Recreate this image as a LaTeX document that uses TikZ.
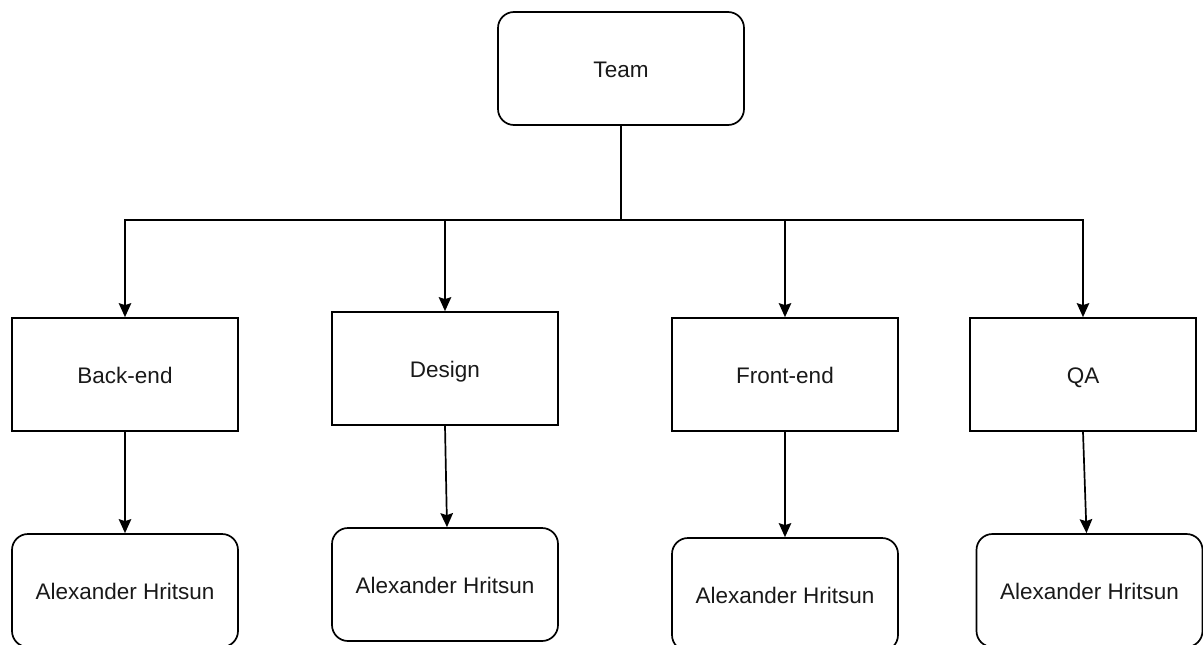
\documentclass[tikz,border=0pt]{standalone}
\usepackage{fontspec}
\setmainfont{Liberation Sans}
\usetikzlibrary{arrows.meta}
\begin{document}
\begin{tikzpicture}[x=1pt,y=-1pt,
  box/.style={draw, line width=1.7pt, minimum width=226pt, minimum height=113pt, inner sep=0pt, text height=17pt, text depth=0pt, font=\fontsize{22.5}{27}\selectfont, text=black!90},
  rbox/.style={box, rounded corners=16pt},
  conn/.style={line width=1.7pt, -{Stealth[length=14pt,width=12.5pt,inset=2pt]}}]
\useasboundingbox (0,0) rectangle (1203,645);
\clip (0,0) rectangle (1203,645);
\node[rbox, minimum width=246pt] (team) at (621,68.5) {Team};
\node[box] (be) at (125,374.5) {Back-end};
\node[box] (de) at (445,368.5) {Design};
\node[box] (fe) at (785,374.5) {Front-end};
\node[box] (qa) at (1083,374.5) {QA};
\node[rbox] (beb) at (125,590.5) {Alexander Hritsun};
\node[rbox] (deb) at (445,584.5) {Alexander Hritsun};
\node[rbox] (feb) at (785,594.5) {Alexander Hritsun};
\node[rbox] (qab) at (1089.5,590.5) {Alexander Hritsun};
\coordinate (j) at (621,220);
\draw[line width=1.7pt] (team.south) -- (j);
\draw[conn] (j) -| (be.north);
\draw[conn] (j) -| (de.north);
\draw[conn] (j) -| (fe.north);
\draw[conn] (j) -| (qa.north);
\draw[conn] (be.south) -- (beb.north);
\draw[conn] (de.south) -- ([xshift=2pt]deb.north);
\draw[conn] (fe.south) -- (feb.north);
\draw[conn] (qa.south) -- ([xshift=-3pt]qab.north);
\end{tikzpicture}
\end{document}
